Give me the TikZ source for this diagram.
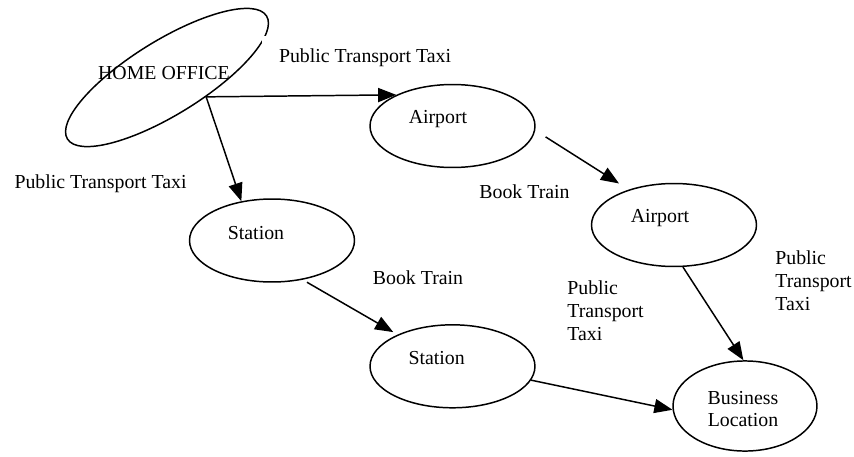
\documentclass[tikz,border=0pt]{standalone}
\usepackage{fontspec}
\setmainfont{Liberation Serif}
\usetikzlibrary{shapes.geometric, arrows.meta}

\tikzset{
  oval/.style={draw, ellipse, line width=0.9pt, inner sep=0pt,
    minimum width=99.8pt, minimum height=50.2pt},
  txt/.style={font=\fontsize{12}{13.8}\selectfont, inner sep=0pt},
  link/.style={line width=0.9pt, -{Triangle[length=11pt, width=8.5pt]}},
}

\begin{document}
\begin{tikzpicture}[x=0.605pt, y=-0.605pt]
    \useasboundingbox (0,0) rectangle (854,456);

    % places
    \node[oval, rotate=31.7, minimum width=141.6pt, minimum height=44.8pt] (home) at (167,77.5) {};
    \node[oval] (air1) at (452.5,126) {};
    \node[oval] (air2) at (674,225) {};
    \node[oval] (st1) at (272,240.5) {};
    \node[oval] (st2) at (452.5,366.3) {};
    \node[oval, minimum width=87.1pt, minimum height=54.5pt] (bus) at (745,406) {};

    \node[txt] (homet) at (164,73) {HOME OFFICE};
    \node[txt] (air1t) at (438,119) {Airport};
    \node[txt] (air2t) at (660,218.5) {Airport};
    \node[txt] (st1t) at (256,233) {Station};
    \node[txt] (st2t) at (436.7,358.5) {Station};
    \node[txt, align=center] (bust) at (743,409) {Business\\Location};

    % ways of travel
    \node[txt, fill=white, inner xsep=10pt, inner ysep=8pt] (taxi1) at (365,58) {Public Transport Taxi};
    \node[txt] (taxi2) at (100.5,184) {Public Transport Taxi};
    \node[txt] (book1) at (524.5,192) {Book Train};
    \node[txt] (book2) at (418,278) {Book Train};
    \node[txt, align=left, anchor=west] (taxi3) at (567,311) {Public\\Transport\\Taxi};
    \node[txt, align=left, anchor=west] (taxi4) at (775,281) {Public\\Transport\\Taxi};

    \draw[link] (home.-58.8) -- (air1.151.3);
    \draw[link] (home.-58.8) -- (st1.128);
    \draw[link, shorten <=7.4pt, shorten >=6.9pt] (air1.-3.1) -- (air2.142.2);
    \draw[link, shorten <=3pt, shorten >=3pt] (st1.-52.6) -- (st2.150.1);
    \draw[link] (air2.-78) -- (bus.92.6);
    \draw[link] (st2.-10) -- (bus.183);
\end{tikzpicture}
\end{document}
